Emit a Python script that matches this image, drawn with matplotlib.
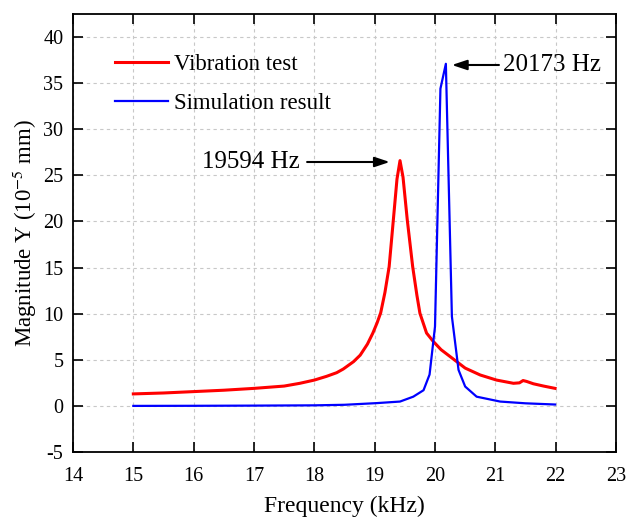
import matplotlib
matplotlib.use("Agg")
import matplotlib.pyplot as plt

plt.rcParams['font.family'] = ['Liberation Serif', 'DejaVu Serif']
plt.rcParams['axes.unicode_minus'] = False
plt.rcParams['mathtext.fontset'] = 'stix'

# vibration test (red)
test_f = [15.0, 15.5, 16.0, 16.5, 17.0, 17.5, 17.76, 18.0, 18.2, 18.37, 18.48,
          18.65, 18.76, 18.88, 18.97, 19.04, 19.1, 19.17, 19.24, 19.31, 19.37,
          19.42, 19.47, 19.54, 19.63, 19.7, 19.75, 19.86, 19.97, 20.1, 20.2,
          20.36, 20.5, 20.75, 21.02, 21.3, 21.4, 21.46, 21.52, 21.63, 21.8, 21.99]
test_a = [1.3, 1.4, 1.55, 1.7, 1.9, 2.15, 2.45, 2.8, 3.2, 3.6, 4.0,
          4.8, 5.5, 6.7, 7.9, 9.0, 10.1, 12.3, 15.1, 20.2, 24.6,
          26.6, 24.8, 20.2, 15.1, 12.0, 10.05, 7.9, 7.0, 6.1, 5.6,
          4.8, 4.1, 3.35, 2.8, 2.45, 2.5, 2.75, 2.65, 2.4, 2.15, 1.9]

# simulation result (blue)
sim_f = [15.0, 16.0, 17.0, 18.0, 18.5, 19.03, 19.42, 19.64, 19.81, 19.91, 20.0,
         20.09, 20.18, 20.28, 20.39, 20.5, 20.69, 21.08, 21.5, 21.99]
sim_a = [0.0, 0.01, 0.03, 0.06, 0.12, 0.3, 0.47, 1.0, 1.7, 3.4, 8.6,
         34.4, 37.1, 9.7, 3.9, 2.1, 1.0, 0.47, 0.28, 0.15]

fig = plt.figure(figsize=(6.27, 5.18), dpi=100)
ax = fig.add_axes([73/627, 1-452/518, (616-73)/627, (452-14)/518])

ax.plot(test_f, test_a, color='red', lw=2.2, label='Vibration test')
ax.plot(sim_f, sim_a, color='blue', lw=1.6, label='Simulation result')

ax.set_xlim(14, 23)
ax.set_ylim(-5, 42.5)
ax.set_xticks(range(14, 24))
ax.set_yticks(range(-5, 41, 5))
ax.grid(True, ls=(0, (3, 3)), color='#c8c8c8', lw=0.8)
ax.tick_params(direction='in', length=7, width=1.2, labelsize=14.5,
               top=True, right=True, labeltop=False, labelright=False)
ax.tick_params(axis='x', pad=11)
ax.tick_params(axis='y', pad=7)
for s in ax.spines.values():
    s.set_linewidth(1.3)

ax.set_xlabel('Frequency (kHz)', fontsize=17, labelpad=7)
ax.set_ylabel('Magnitude Y (10$^{-5}$ mm)', fontsize=16.5, labelpad=3)

ax.legend(loc='upper left', bbox_to_anchor=(0.04, 0.955), frameon=False,
          fontsize=16.5, handlelength=2.3, handletextpad=0.25, labelspacing=0.75)

arrow = dict(arrowstyle='-|>,head_length=0.9,head_width=0.3',
             color='black', lw=1.5, shrinkA=0, shrinkB=0)
ax.text(17.76, 26.45, '19594 Hz', fontsize=18, ha='right', va='center')
ax.annotate('', xy=(19.25, 26.45), xytext=(17.88, 26.45), arrowprops=arrow)
ax.text(21.13, 36.97, '20173 Hz', fontsize=18, ha='left', va='center')
ax.annotate('', xy=(20.28, 36.97), xytext=(21.06, 36.97), arrowprops=arrow)

fig.savefig('out.png', dpi=100)
